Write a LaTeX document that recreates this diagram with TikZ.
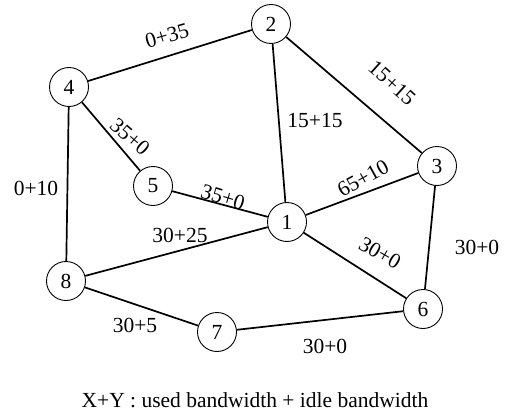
\documentclass[tikz,border=0pt]{standalone}
\usepackage{fontspec}
\setmainfont{Liberation Serif}
\begin{document}
\begin{tikzpicture}[x=1pt,y=-1pt,
  vertex/.style={circle,draw,line width=0.9pt,minimum size=39pt,inner sep=0pt,font=\fontsize{21.5}{24}\selectfont},
  link/.style={line width=1.7pt},
  bw/.style={font=\fontsize{21.5}{24}\selectfont,inner sep=0pt}]
\useasboundingbox (0,0) rectangle (508,417);
% nodes
\node[vertex] (n1) at (287,222) {1};
\node[vertex] (n2) at (271,24) {2};
\node[vertex] (n3) at (437,166) {3};
\node[vertex] (n4) at (69,87) {4};
\node[vertex] (n5) at (153,186) {5};
\node[vertex] (n6) at (423,309) {6};
\node[vertex] (n7) at (217,332) {7};
\node[vertex] (n8) at (66,281) {8};
% links
\draw[link] (n4) -- (n2);
\draw[link] (n2) -- (n3);
\draw[link] (n2) -- (n1);
\draw[link] (n4) -- (n5);
\draw[link] (n4) -- (n8);
\draw[link] (n5) -- (n1);
\draw[link] (n1) -- (n3);
\draw[link] (n1) -- (n8);
\draw[link] (n1) -- (n6);
\draw[link] (n3) -- (n6);
\draw[link] (n8) -- (n7);
\draw[link] (n7) -- (n6);
% bandwidth labels
\node[bw,rotate=16] (l42) at (167,36) {0+35};
\node[bw,rotate=-42] (l23) at (392,83) {15+15};
\node[bw] (l21) at (315,121) {15+15};
\node[bw,rotate=-41] (l45) at (130,137) {35+0};
\node[bw] (l48) at (36,188) {0+10};
\node[bw,rotate=-17] (l51) at (223,197) {35+0};
\node[bw,rotate=29] (l13) at (363,178) {65+10};
\node[bw] (l18) at (180,235) {30+25};
\node[bw,rotate=-30] (l16) at (380,253) {30+0};
\node[bw] (l36) at (477,247) {30+0};
\node[bw] (l87) at (135,325) {30+5};
\node[bw] (l76) at (325,346) {30+0};
% legend
\node[bw] (legend) at (255,400) {X+Y : used bandwidth + idle bandwidth};
\end{tikzpicture}
\end{document}
